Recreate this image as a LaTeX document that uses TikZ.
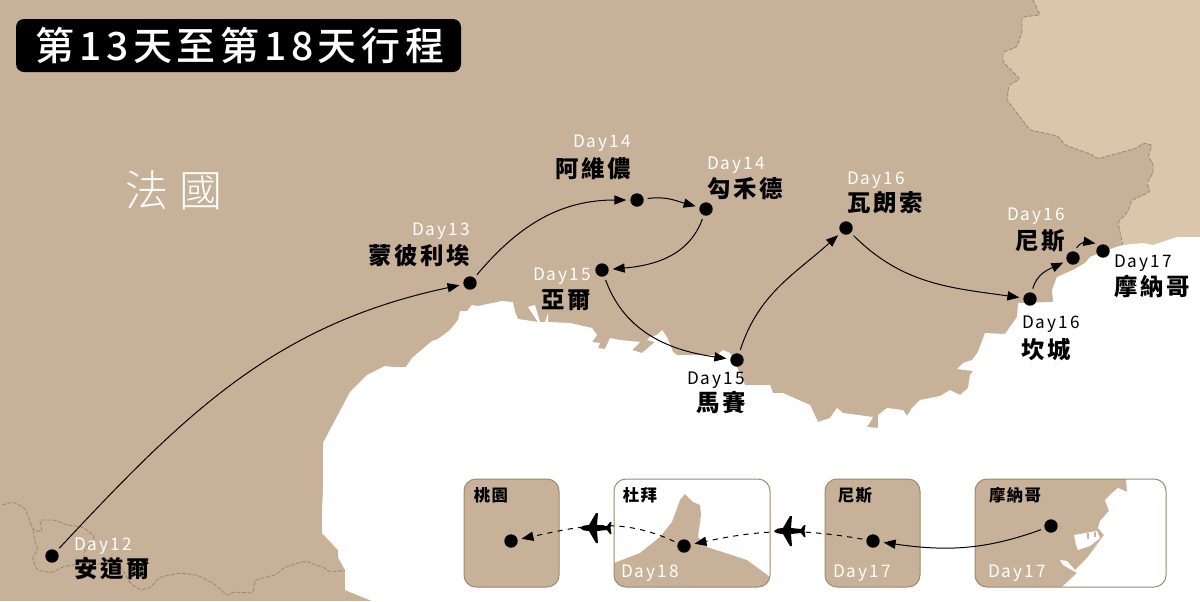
\documentclass[tikz,border=0pt]{standalone}
\usepackage{fontspec}
\setmainfont{Noto Sans CJK TC}
\newfontfamily\titlefont{Noto Sans CJK TC Medium}
\newfontfamily\countryfont{Noto Sans CJK TC Light}
\usetikzlibrary{arrows.meta}
\definecolor{land}{HTML}{C7B299}
\definecolor{landlight}{HTML}{D9C6AB}
\definecolor{edge}{HTML}{A08A6B}
\tikzset{
	spot/.style={circle,fill=black,inner sep=0,minimum size=6.7pt,outer sep=2pt},
	route/.style={line width=0.5pt,-{Triangle[length=6pt,width=4.6pt]}},
	flight/.style={route,dash pattern=on 2.6pt off 2.6pt},
	border/.style={edge,line width=0.45pt,dash pattern=on 2pt off 0.8pt,rounded corners=1pt},
	daytag/.style={inner sep=0,yshift=-0.9pt,font=\fontsize{8.6}{10}\selectfont\addfontfeature{LetterSpace=12}},
	nametag/.style={inner sep=0,yshift=-0.3pt,font=\fontsize{11.7}{14}\selectfont\bfseries\addfontfeature{LetterSpace=11}},
	smalltag/.style={inner sep=0,font=\fontsize{8.2}{10}\selectfont\bfseries\addfontfeature{LetterSpace=8}},
	inset/.style={draw=edge,line width=0.5pt,rounded corners=6pt},
	plane/.pic={
		\fill[black] (-17,0) .. controls (-14,-2.5) .. (-8,-3) -- (-1,-15) -- (1,-15) -- (0,-3) -- (10,-2) -- (13,-6) -- (14.5,-6) -- (13.5,0) -- (14.5,6) -- (13,6) -- (10,2) -- (0,3) -- (1,15) -- (-1,15) -- (-8,3) .. controls (-14,2.5) .. (-17,0) -- cycle;
	}
}
\begin{document}
\begin{tikzpicture}[x=0.5pt,y=-0.5pt]
	\useasboundingbox (0,0) rectangle (1200,601);
	%%%%% MAP %%%%%
	\fill[land] (0,0) rectangle (1200,601);
	\fill[landlight] (1033,0) -- (1040,15) -- (1022,17) -- (1022,32) -- (1017,47) -- (1003,52) -- (1003,62) -- (1020,79) -- (1009,85) -- (1007,100) -- (1030,130) -- (1058,136) -- (1065,145) -- (1093,155) -- (1097,159) -- (1137,148) -- (1143,143) -- (1152,145) -- (1148,157) -- (1153,163) -- (1153,173) -- (1147,183) -- (1150,192) -- (1132,200) -- (1127,213) -- (1118,222) -- (1123,250) -- (1200,250) -- (1200,0) -- cycle;
	\draw[border] (1033,0) -- (1040,15) -- (1022,17) -- (1022,32) -- (1017,47) -- (1003,52) -- (1003,62) -- (1020,79) -- (1009,85) -- (1007,100) -- (1030,130) -- (1058,136) -- (1065,145) -- (1093,155) -- (1097,159) -- (1137,148) -- (1143,143) -- (1152,145) -- (1148,157) -- (1153,163) -- (1153,173) -- (1147,183) -- (1150,192) -- (1132,200) -- (1127,213) -- (1118,222) -- (1123,247);
	\draw[border] (2,505) -- (13,502) -- (25,508) -- (33,530) -- (42,532) -- (40,520) -- (55,520) -- (67,525) -- (83,527) -- (95,537) -- (85,550) -- (83,563) -- (120,565) -- (130,583) -- (140,590) -- (150,588) -- (160,577) -- (180,573) -- (197,575) -- (213,583) -- (228,596) -- (233,592) -- (253,593) -- (255,580) -- (275,575) -- (285,567) -- (305,561) -- (325,568) -- (330,572) -- (347,570);
	\draw[border] (33,530) -- (35,542) -- (38,550) -- (32,558) -- (37,570) -- (52,573) -- (62,567) -- (83,563);
	\fill[white] (372,601) -- (345,590) -- (345,570) -- (338,557) -- (338,550) -- (322,533) -- (322,510) -- (323,490) -- (323,443) -- (350,392) -- (367,375) -- (385,366) -- (393,367) -- (406,367) -- (412,358) -- (432,341) -- (438,339) -- (450,330) -- (458,320) -- (460,311) -- (467,311) -- (472,305) -- (478,306) -- (502,301) -- (513,302) -- (515,312) -- (518,319) -- (538,322) -- (528,307) -- (535,305) -- (540,322) -- (545,322) -- (548,313) -- (548,322) -- (570,323) -- (592,328) -- (597,335) -- (592,342) -- (600,343) -- (598,348) -- (605,349) -- (610,338) -- (620,340) -- (640,342) -- (632,350) -- (642,353) -- (655,342) -- (647,340) -- (650,337) -- (657,335) -- (662,330) -- (667,337) -- (673,352) -- (677,355) -- (717,355) -- (723,350) -- (730,353) -- (743,380) -- (745,385) -- (770,385) -- (773,393) -- (783,393) -- (810,405) -- (818,422) -- (830,418) -- (837,408) -- (843,413) -- (873,417) -- (867,427) -- (878,428) -- (878,415) -- (887,408) -- (903,410) -- (907,416) -- (912,408) -- (920,400) -- (940,396) -- (950,390) -- (960,395) -- (968,388) -- (970,375) -- (973,371) -- (957,369) -- (963,363) -- (972,360) -- (978,352) -- (985,333) -- (1005,334) -- (1017,317) -- (1018,303) -- (1053,302) -- (1052,290) -- (1057,277) -- (1073,270) -- (1085,263) -- (1090,257) -- (1113,248) -- (1123,245) -- (1143,243) -- (1153,245) -- (1177,237) -- (1200,237) -- (1200,601) -- cycle;
	%%%%% TITLE %%%%%
	\node[fill=black,rounded corners=4pt,minimum width=222.5pt,minimum height=26.5pt,inner sep=0] (titlebar) at (238.5,45.5) {};
	\node[text=white,inner sep=0,font=\fontsize{19.5}{22}\titlefont\addfontfeature{LetterSpace=12}] (title) at (240,45.5) {第13天至第18天行程};
	\node[text=white,inner sep=0,font=\fontsize{21.5}{24}\countryfont\addfontfeature{LetterSpace=25}] (country) at (174,190) {法國};
	%%%%% STOPS %%%%%
	\node[spot] (andorra) at (52,556) {};
	\node[spot] (montpellier) at (470,283) {};
	\node[spot] (avignon) at (637,200) {};
	\node[spot] (gordes) at (706,209) {};
	\node[spot] (arles) at (602,270) {};
	\node[spot] (marseille) at (737,360) {};
	\node[spot] (valensole) at (846,228) {};
	\node[spot] (cannes) at (1030,299) {};
	\node[spot] (nice) at (1073,258) {};
	\node[spot] (monaco) at (1103,251) {};
	\draw[route] (andorra) to[out=47,in=192] (montpellier);
	\draw[route] (montpellier) to[out=50,in=180] (avignon);
	\draw[route] (avignon) to[out=8,in=165] (gordes);
	\draw[route] (gordes) to[out=-110,in=5] (arles);
	\draw[route] (arles) to[out=-70,in=172] (marseille);
	\draw[route] (marseille) to[out=72,in=222] (valensole);
	\draw[route] (valensole) to[out=-45,in=172] (cannes);
	\draw[route] (cannes) to[out=75,in=205] (nice);
	\draw[route] (nice.70) to[out=60,in=170] (monaco.135);
	%%%%% LABELS %%%%%
	\node[daytag,text=white] (d12) at (103,544) {Day12};
	\node[nametag] (n12) at (112,568) {安道爾};
	\node[daytag,text=white] (d13) at (441,229) {Day13};
	\node[nametag] (n13) at (419,255) {蒙彼利埃};
	\node[daytag,text=white] (d14a) at (602,141) {Day14};
	\node[nametag] (n14a) at (593,168) {阿維儂};
	\node[daytag,text=white] (d14b) at (736,163) {Day14};
	\node[nametag] (n14b) at (745,188) {勾禾德};
	\node[daytag,text=white] (d15a) at (562,274) {Day15};
	\node[nametag] (n15a) at (566,300) {亞爾};
	\node[daytag] (d15b) at (716,378) {Day15};
	\node[nametag] (n15b) at (721,402) {馬賽};
	\node[daytag,text=white] (d16a) at (876,178) {Day16};
	\node[nametag] (n16a) at (885,202) {瓦朗索};
	\node[daytag,text=white] (d16b) at (1036,214) {Day16};
	\node[nametag] (n16b) at (1040,240) {尼斯};
	\node[daytag] (d17) at (1143,261) {Day17};
	\node[nametag] (n17) at (1152,286) {摩納哥};
	\node[daytag] (d16c) at (1051,322) {Day16};
	\node[nametag] (n16c) at (1046,349) {坎城};
	%%%%% INSETS %%%%%
	\draw[inset,fill=land] (464,479) rectangle (559,587);
	\begin{scope}
		\clip[rounded corners=6pt] (614,479) rectangle (770,587);
		\fill[land] (614,563) -- (640,553) -- (660,537) -- (672,522) -- (680,500) -- (685,494) -- (693,502) -- (700,505) -- (701,515) -- (698,537) -- (707,547) -- (747,560) -- (770,577) -- (770,587) -- (614,587) -- cycle;
	\end{scope}
	\draw[inset] (614,479) rectangle (770,587);
	\draw[inset,fill=land] (825,479) rectangle (920,587);
	\begin{scope}
		\clip[rounded corners=6pt] (975,479) rectangle (1166,587);
		\fill[land] (975,479) rectangle (1166,587);
		\fill[white] (1126,479) -- (1127,492) -- (1118,488) -- (1112,493) -- (1105,500) -- (1109,511) -- (1100,521) -- (1098,528) -- (1104,535) -- (1093,550) -- (1087,558) -- (1080,565) -- (1075,570) -- (1067,561) -- (1060,560) -- (1063,565) -- (1077,573) -- (1062,587) -- (1166,587) -- (1166,479) -- cycle;
		\fill[white] (1074,535) -- (1097,531) -- (1100,538) -- (1090,546) -- (1078,550) -- (1076,545) -- cycle;
		\fill[land] (1087,533) rectangle (1089,539);
		\fill[land] (1094,532) rectangle (1096,537);
	\end{scope}
	\draw[inset] (975,479) rectangle (1166,587);
	\node[smalltag] (t1) at (491,495) {桃園};
	\node[smalltag] (t2) at (640,495) {杜拜};
	\node[smalltag] (t3) at (855,495) {尼斯};
	\node[smalltag] (t4) at (1015,495) {摩納哥};
	\node[daytag,text=white] (dd18) at (650,571) {Day18};
	\node[daytag,text=white] (dd17a) at (862,571) {Day17};
	\node[daytag,text=white] (dd17b) at (1017,571) {Day17};
	\node[spot] (taoyuan) at (511,541) {};
	\node[spot] (dubai) at (684,546) {};
	\node[spot] (nicebox) at (873,541) {};
	\node[spot] (monacobox) at (1051,526) {};
	\draw[route] (monacobox) to[out=200,in=-8] (nicebox);
	\draw[flight] (nicebox) to[out=170,in=12] (dubai);
	\draw[flight] (dubai) to[out=155,in=12] (taoyuan);
	\pic at (791,531) {plane};
	\pic at (597,528) {plane};
\end{tikzpicture}
\end{document}
